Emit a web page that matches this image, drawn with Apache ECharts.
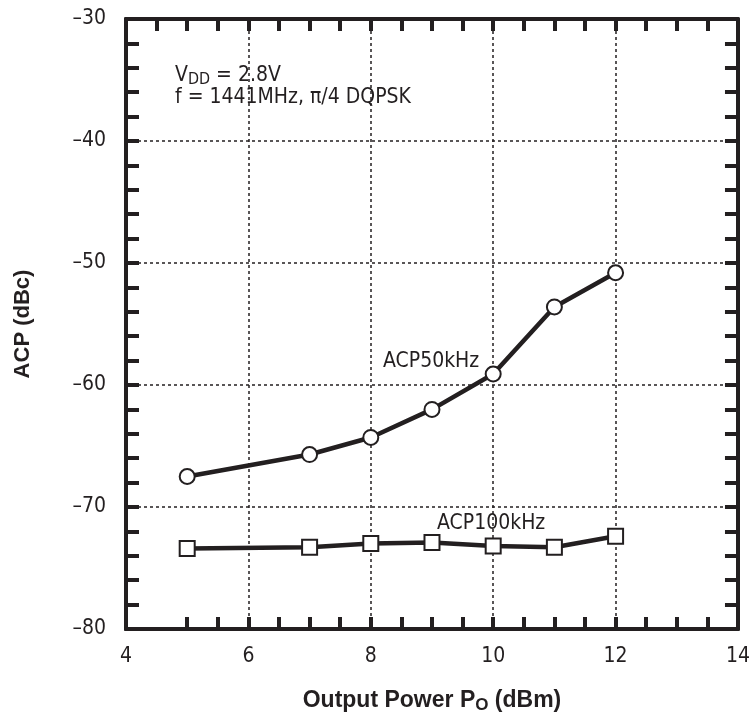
<!DOCTYPE html>
<html>
<head>
    <meta charset="utf-8">
    <title>ACP vs Output Power</title>
    <script src="https://cdn.jsdelivr.net/npm/echarts@6/dist/echarts.min.js"></script>
    <style>
        html, body { margin: 0; padding: 0; background: #fff; }
        #main { width: 753px; height: 719px; }
    </style>
</head>
<body>
<div id="main"></div>
<script>
    // 数据
    var powerOut = [5, 7, 8, 9, 10, 11, 12];
    var acp50 = [-67.5, -65.7, -64.3, -62.0, -59.1, -53.6, -50.8];
    var acp100 = [-73.4, -73.3, -73.0, -72.9, -73.2, -73.3, -72.4];
    // 刻度
    var xTicksBottom = [5, 5.5, 6, 6.5, 7, 7.5, 8, 8.5, 9, 9.5, 10, 10.5, 11, 11.5, 12, 12.5, 13, 13.5];
    var xTicksTop = [4.5, 5, 5.5, 6, 6.5, 7, 7.5, 8, 8.5, 9, 9.5, 10, 10.5, 11, 11.5, 12, 12.5, 13, 13.5];
    var yTicks = [-78, -76, -74, -72, -70, -68, -66, -64, -62, -60, -58, -56, -54, -52, -50,
        -48, -46, -44, -42, -40, -38, -36, -34, -32];

    var narrow = '"DejaVu Sans Condensed", "Liberation Sans Narrow", sans-serif';
    var bold = '"Liberation Sans", Arial, sans-serif';
    var ink = '#231f20';

    function pairs(xs, ys) {
        var out = [];
        for (var i = 0; i < xs.length; i++) out.push([xs[i], ys[i]]);
        return out;
    }

    var chart = echarts.init(document.getElementById('main'));

    var lineAx = { show: true, lineStyle: { color: ink, width: 4 } };
    var tickStyle = { color: ink, width: 4 };
    var dashed = { show: true, lineStyle: { color: ink, width: 1.5, type: [3, 3] } };

    // 只画刻度的辅助轴
    function tickAxis(kind, pos, ticks, len) {
        var ax = {
            type: 'value', position: pos,
            axisLine: lineAx,
            axisTick: { show: true, inside: true, length: len, lineStyle: tickStyle, customValues: ticks },
            axisLabel: { show: false },
            splitLine: { show: false }
        };
        if (kind === 'x') { ax.min = 4; ax.max = 14; ax.interval = 2; }
        else { ax.min = -80; ax.max = -30; ax.interval = 10; }
        return ax;
    }

    var option = {
        backgroundColor: '#fff',
        animation: false,
        grid: { left: 126, right: 9, top: 19, bottom: 88 },
        xAxis: [{
            type: 'value', min: 4, max: 14, interval: 2, position: 'bottom',
            axisLine: lineAx,
            axisTick: { show: false },
            axisLabel: { color: ink, fontFamily: narrow, fontSize: 21, margin: 17 },
            splitLine: dashed,
            name: 'Output Power P{sub|O} (dBm)',
            nameLocation: 'middle', nameGap: 58,
            nameTextStyle: {
                color: ink, fontFamily: bold, fontWeight: 'bold', fontSize: 23,
                rich: { sub: { fontFamily: bold, fontWeight: 'bold', fontSize: 17, color: ink, padding: [10, 0, 0, 0] } }
            }
        },
            tickAxis('x', 'top', xTicksTop, 12),
            tickAxis('x', 'bottom', xTicksBottom, 12)
        ],
        yAxis: [{
            type: 'value', min: -80, max: -30, interval: 10, position: 'left',
            axisLine: lineAx,
            axisTick: { show: false },
            axisLabel: {
                color: ink, fontFamily: narrow, fontSize: 21, margin: 20,
                formatter: function (v) { return v < 0 ? '\u2013' + Math.abs(v) : String(v); }
            },
            splitLine: dashed,
            name: 'ACP (dBc)',
            nameLocation: 'middle', nameGap: 92,
            nameTextStyle: { color: ink, fontFamily: bold, fontWeight: 'bold', fontSize: 22 }
        },
            tickAxis('y', 'right', yTicks, 13),
            tickAxis('y', 'left', yTicks, 13)
        ],
        series: [{
            name: 'ACP50kHz',
            type: 'line',
            data: pairs(powerOut, acp50),
            symbol: 'circle', symbolSize: 15,
            lineStyle: { color: ink, width: 4.5 },
            itemStyle: { color: '#fff', borderColor: ink, borderWidth: 2 }
        }, {
            name: 'ACP100kHz',
            type: 'line',
            data: pairs(powerOut, acp100),
            symbol: 'rect', symbolSize: 15,
            lineStyle: { color: ink, width: 4.5 },
            itemStyle: { color: '#fff', borderColor: ink, borderWidth: 2 }
        }],
        graphic: [{
            type: 'text', left: 175, top: 65,
            style: {
                text: 'V{sub|DD} = 2.8V',
                fill: ink, font: '21px ' + narrow,
                rich: { sub: { fontSize: 16, fontFamily: narrow, fill: ink, padding: [8, 0, 0, 0] } }
            }
        }, {
            type: 'text', left: 175, top: 87,
            style: { text: 'f = 1441MHz, \u03c0/4 DQPSK', fill: ink, font: '21px ' + narrow }
        }, {
            type: 'text', left: 383, top: 351,
            style: { text: 'ACP50kHz', fill: ink, font: '21px ' + narrow }
        }, {
            type: 'text', left: 437, top: 513,
            style: { text: 'ACP100kHz', fill: ink, font: '21px ' + narrow }
        }]
    };

    chart.setOption(option);
</script>
</body>
</html>
